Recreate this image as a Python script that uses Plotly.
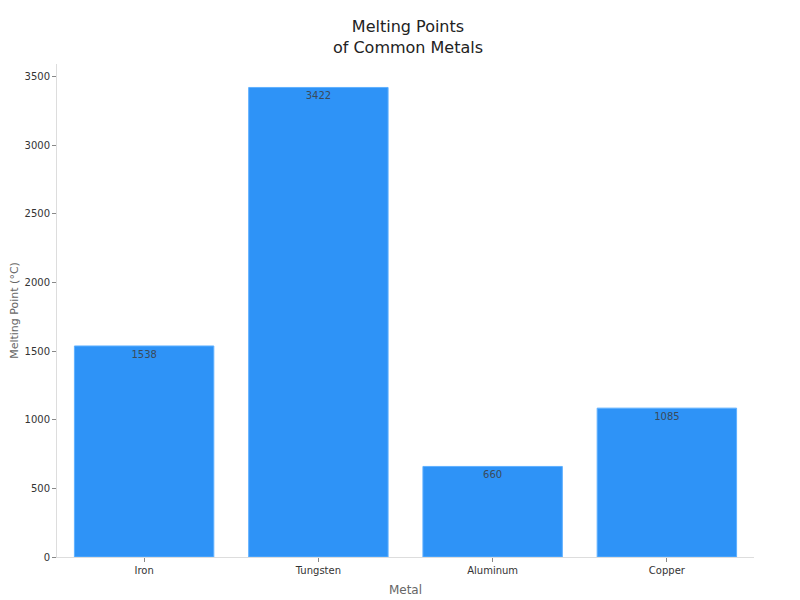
import plotly.graph_objects as go

metals = ["Iron", "Tungsten", "Aluminum", "Copper"]
melting_points = [1538, 3422, 660, 1085]

fig = go.Figure(go.Bar(
    x=metals,
    y=melting_points,
    text=[str(v) for v in melting_points],
    textposition="inside",
    insidetextanchor="end",
    textfont=dict(size=10, color="#3a4a5a", family="DejaVu Sans"),
    marker=dict(color="#2e93f7", line=dict(color="#5fb0ff", width=1)),
    hoverinfo="skip",
))

fig.update_layout(
    width=800, height=600,
    template="none",
    paper_bgcolor="white", plot_bgcolor="white",
    font=dict(family="DejaVu Sans", color="#333333", size=10),
    title=dict(text="Melting Points<br>of Common Metals", x=0.5, xanchor="center",
               y=0.96, yanchor="top", font=dict(size=16, color="#222222")),
    margin=dict(l=49, r=54, t=56, b=51),
    bargap=0.2,
    showlegend=False,
    xaxis=dict(
        title=dict(text="Metal", font=dict(size=12, color="#666666"), standoff=10),
        automargin=False,
        showgrid=False, showline=True, linecolor="#dddddd", linewidth=1,
        ticks="outside", ticklen=4, tickcolor="#888888",
        tickfont=dict(size=10, color="#333333"),
    ),
    yaxis=dict(
        title=dict(text="Melting Point (°C)", font=dict(size=11, color="#666666"), standoff=14),
        automargin=False,
        showgrid=False, showline=True, linecolor="#dddddd", linewidth=1,
        ticks="outside", ticklen=4, tickcolor="#888888",
        tickfont=dict(size=10, color="#333333"),
        range=[0, 3593], dtick=500, zeroline=False,
    ),
)

fig.write_html("out.html")
